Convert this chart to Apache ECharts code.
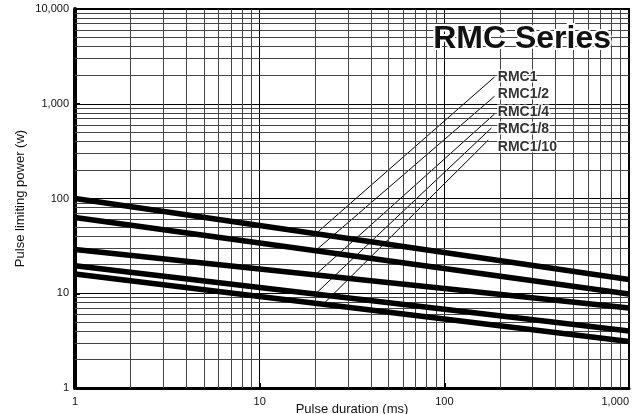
<!DOCTYPE html>
<html>
<head>
<meta charset="utf-8">
<script src="https://cdn.jsdelivr.net/npm/echarts@6/dist/echarts.min.js"></script>
<style>
html,body{margin:0;padding:0;background:#fff;}
#chart{width:636px;height:414px;}
</style>
</head>
<body>
<div id="chart"></div>
<script>
// ---- data ----
const durations = [1, 1000];                 // pulse duration (ms), x
const seriesNames = ['RMC1', 'RMC1/2', 'RMC1/4', 'RMC1/8', 'RMC1/10'];
const rmc1   = [100, 14];
const rmc1_2 = [63, 9.8];
const rmc1_4 = [29, 7.0];
const rmc1_8 = [19.5, 4.0];
const rmc1_10 = [16, 3.1];
const seriesValues = [rmc1, rmc1_2, rmc1_4, rmc1_8, rmc1_10];

// leader lines (callout) start on each curve, end at label
const leaderStartX = [20, 20, 20, 20, 22];
const leaderStartY = [42, 28, 15.6, 9.8, 7.6];
const leaderEndX = [187, 187, 187, 180, 173];
const leaderEndY = [1916, 1200, 780, 555, 414];
const labelX = [190, 190, 190, 190, 190];
const labelY = [1916, 1252, 818, 535, 350];

const xTicks = [1, 10, 100, 1000];
const yTicks = [1, 10, 100, 1000, 10000];
const title = 'RMC Series';
const xName = 'Pulse duration (ms)';
const yName = 'Pulse limiting power (w)';

// minor grid values (2..9 per decade)
function minorValues(maxExp) {
  const out = [];
  for (let e = 0; e < maxExp; e++) for (let k = 2; k <= 9; k++) out.push(k * Math.pow(10, e));
  return out;
}
const xMinor = minorValues(3);
const yMinor = minorValues(4);

const FONT = '"Liberation Sans", Arial, Helvetica, sans-serif';
const fmt = v => Number(v).toLocaleString('en-US');

const series = [];
// minor grid via markLine
series.push({
  type: 'line', data: [], silent: true,
  markLine: {
    silent: true, symbol: 'none', animation: false,
    label: { show: false },
    lineStyle: { color: '#444', width: 1, type: 'solid' },
    data: yMinor.map(v => ({ yAxis: v })).concat(xMinor.map(v => ({ xAxis: v })))
  }
});
seriesNames.forEach((n, i) => {
  series.push({
    name: n, type: 'line', showSymbol: false, silent: true, animation: false,
    data: durations.map((d, j) => [d, seriesValues[i][j]]),
    lineStyle: { color: '#000', width: 5.5, cap: 'butt' },
    z: 5
  });
  series.push({
    name: n + '-leader', type: 'line', showSymbol: false, silent: true, animation: false,
    data: [[leaderStartX[i], leaderStartY[i]], [leaderEndX[i], leaderEndY[i]]],
    lineStyle: { color: '#000', width: 1 },
    z: 4
  });
});
series.push({
  type: 'scatter', symbolSize: 0, silent: true, animation: false, z: 6,
  data: seriesNames.map((n, i) => ({ value: [labelX[i], labelY[i]], name: n })),
  label: {
    show: true, position: 'right', distance: 2,
    formatter: p => p.name,
    fontFamily: FONT, fontWeight: 'bold', fontSize: 14, color: '#000',
    textBorderColor: '#fff', textBorderWidth: 3
  }
});

const chart = echarts.init(document.getElementById('chart'), null, { renderer: 'canvas' });
chart.setOption({
  animation: false,
  backgroundColor: '#fff',
  title: {
    text: title, right: 21, top: 23, padding: 0,
    textStyle: {
      fontFamily: FONT, fontWeight: 'bold', fontSize: 32, color: '#111',
      textBorderColor: '#fff', textBorderWidth: 4
    },
    z: 10
  },
  grid: { left: 75, right: 7, top: 9, bottom: 26, show: true, borderColor: '#000', borderWidth: 2, containLabel: false, outerBoundsMode: 'none' },
  xAxis: {
    type: 'log', logBase: 10, min: 1, max: 1000,
    name: xName, nameLocation: 'middle', nameGap: 15, nameMoveOverlap: false,
    nameTextStyle: { fontFamily: FONT, fontSize: 13, color: '#111' },
    axisLine: { show: true, lineStyle: { color: '#000', width: 3 } },
    axisTick: { show: true, inside: true, length: 5, lineStyle: { color: '#000', width: 2 } },
    axisLabel: { fontFamily: FONT, fontSize: 11, color: '#111', margin: 8, formatter: fmt, alignMaxLabel: 'right', showMaxLabel: true, showMinLabel: true },
    splitLine: { show: true, lineStyle: { color: '#000', width: 1 } }
  },
  yAxis: {
    type: 'log', logBase: 10, min: 1, max: 10000,
    name: yName, nameLocation: 'middle', nameGap: 48, nameMoveOverlap: false,
    nameTextStyle: { fontFamily: FONT, fontSize: 13, color: '#111' },
    axisLine: { show: true, lineStyle: { color: '#000', width: 4 } },
    axisTick: { show: true, inside: true, length: 5, lineStyle: { color: '#000', width: 2 } },
    axisLabel: { fontFamily: FONT, fontSize: 11, color: '#111', margin: 6, formatter: fmt },
    splitLine: { show: true, lineStyle: { color: '#000', width: 1 } }
  },
  series: series
});
</script>
</body>
</html>
